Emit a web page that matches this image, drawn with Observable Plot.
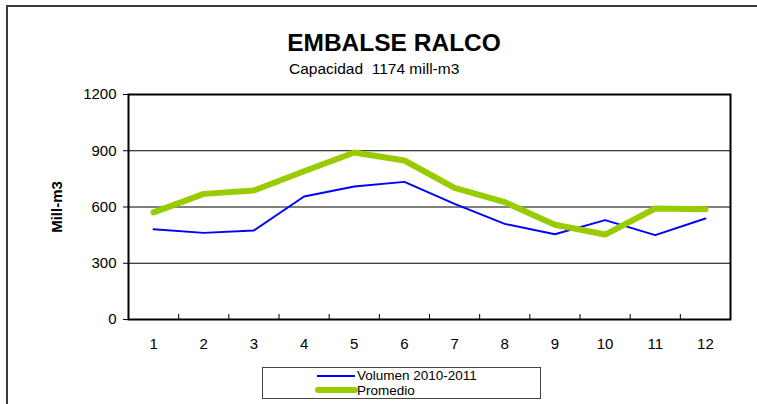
<!DOCTYPE html>
<html>
<head>
<meta charset="utf-8">
<script src="https://cdn.jsdelivr.net/npm/d3@7"></script>
<script src="https://cdn.jsdelivr.net/npm/@observablehq/plot@0.6"></script>
<style>
  body { margin: 0; background: #fff; font-family: Arial, "Liberation Sans", sans-serif; }
  #page { position: relative; width: 757px; height: 404px; overflow: hidden; background: #fff; }
  #border { position: absolute; left: 6px; top: 5px; right: -10px; bottom: -10px; border-left: 2px solid #3a3a3a; border-top: 2px solid #3a3a3a; }
  #title { position: absolute; left: 394px; top: 31px; transform: translateX(-50%); white-space: nowrap; font-size: 24.5px; line-height: 24px; font-weight: bold; color: #000; }
  #subtitle { position: absolute; left: 289px; top: 61px; white-space: nowrap; font-size: 15.5px; line-height: 16px; color: #000; }
  #chart { position: absolute; left: 0; top: 80px; }
  #legend { position: absolute; left: 262px; top: 367px; width: 277px; height: 30px; border: 1px solid #444; background: #fff; }
  #legend svg { position: absolute; left: 0; top: 0; }
  .lg { position: absolute; left: 94px; white-space: nowrap; font-size: 13.5px; line-height: 14px; color: #000; }
</style>
</head>
<body>
<div id="page">
  <div id="border"></div>
  <div id="title">EMBALSE RALCO</div>
  <div id="subtitle">Capacidad&nbsp; 1174 mill-m3</div>
  <div id="chart"></div>
  <div id="legend">
    <svg width="277" height="30">
      <line x1="54" y1="8" x2="92" y2="8" stroke="#0000ff" stroke-width="2"/>
      <line x1="55" y1="22" x2="92" y2="22" stroke="#99cc00" stroke-width="6" stroke-linecap="round"/>
    </svg>
    <span class="lg" style="top:1px">Volumen 2010-2011</span>
    <span class="lg" style="top:16px">Promedio</span>
  </div>
</div>
<script>
const months = [1, 2, 3, 4, 5, 6, 7, 8, 9, 10, 11, 12];
const volumen = [481, 462, 475, 656, 709, 734, 617, 510, 455, 530, 450, 539];
const promedio = [571, 670, 688, 791, 891, 848, 702, 626, 505, 453, 592, 588];
const yTicks = [0, 300, 600, 900, 1200];
const gridDark = [300, 900];
const gridMid = [600];
const xTickMarks = [1.5, 2.5, 3.5, 4.5, 5.5, 6.5, 7.5, 8.5, 9.5, 10.5, 11.5];

const rows = months.map((m, i) => ({month: m, volumen: volumen[i], promedio: promedio[i]}));

const chart = Plot.plot({
  width: 757,
  height: 284,
  marginLeft: 128,
  marginRight: 27,
  marginTop: 14,
  marginBottom: 45,
  style: {fontFamily: "Arial, 'Liberation Sans', sans-serif", fontSize: "15px", color: "#000", background: "transparent"},
  x: {domain: [0.5, 12.5]},
  y: {domain: [0, 1200]},
  marks: [
    Plot.ruleY(gridDark, {stroke: "#000", strokeWidth: 1}),
    Plot.ruleY(gridMid, {stroke: "#808080", strokeWidth: 2}),
    Plot.line(rows, {x: "month", y: "volumen", stroke: "#0000ff", strokeWidth: 2}),
    Plot.line(rows, {x: "month", y: "promedio", stroke: "#99cc00", strokeWidth: 6, strokeLinecap: "round", strokeLinejoin: "round"}),
    Plot.frame({stroke: "#000", strokeWidth: 2}),
    Plot.axisY({ticks: yTicks, tickSize: 5, tickPadding: 7, tickFormat: d3.format("d"), label: null, stroke: "#000"}),
    Plot.axisX({ticks: months, tickSize: 0, tickPadding: 19, tickFormat: d3.format("d"), label: null}),
    Plot.axisX({ticks: xTickMarks, tickSize: -5, tickFormat: () => "", label: null, stroke: "#000"}),
    Plot.text(["Mill-m3"], {text: d => d, frameAnchor: "left", dx: -71, rotate: -90, fontWeight: "bold", fontSize: 15, textAnchor: "middle"})
  ]
});
document.getElementById("chart").appendChild(chart);
</script>
</body>
</html>
